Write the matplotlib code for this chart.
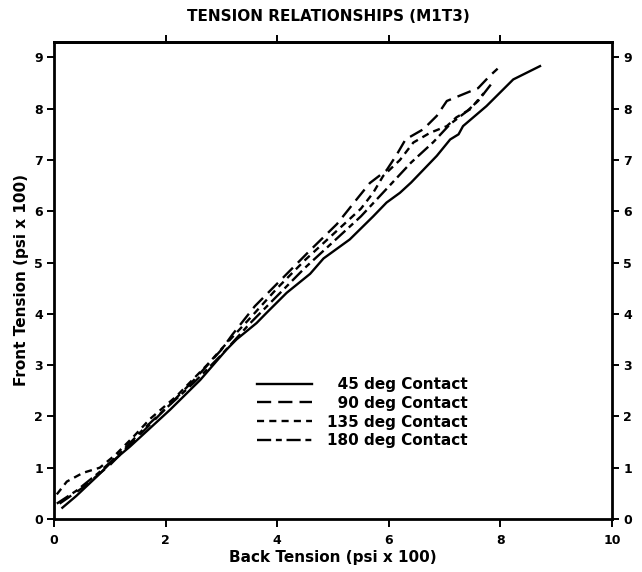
#!/usr/bin/env python3
"""Recreate the M1T3 tension relationship plot (front vs back tension)."""
import matplotlib

matplotlib.use("Agg")
import matplotlib.pyplot as plt

# values (psi x 100)
BACK_45 = [0.15, 0.4, 0.77, 1.0, 1.36, 1.7, 2.08, 2.62, 3.09, 3.27, 3.63, 3.81, 4.17, 4.59, 4.83,
           5.3, 5.72, 5.96, 6.2, 6.4, 6.86, 7.1, 7.25, 7.33, 7.75, 8.23, 8.71]
FRONT_45 = [0.22, 0.45, 0.83, 1.08, 1.41, 1.75, 2.13, 2.71, 3.3, 3.5, 3.82, 4.02, 4.41, 4.78, 5.08,
            5.45, 5.9, 6.17, 6.36, 6.56, 7.08, 7.4, 7.5, 7.66, 8.05, 8.57, 8.83]

BACK_90 = [0.1, 0.5, 1.0, 1.5, 2.0, 2.5, 3.0, 3.2, 3.6, 4.1, 4.6, 5.07, 5.4, 5.66, 5.96, 6.14,
           6.3, 6.62, 6.86, 7.04, 7.33, 7.6, 7.81, 7.95]
FRONT_90 = [0.3, 0.6, 1.05, 1.6, 2.15, 2.7, 3.3, 3.6, 4.15, 4.7, 5.25, 5.75, 6.2, 6.55, 6.8, 7.1,
            7.4, 7.6, 7.86, 8.15, 8.28, 8.4, 8.64, 8.78]

BACK_135 = [0.05, 0.23, 0.52, 0.82, 1.1, 1.42, 1.72, 2.2, 2.74, 3.03, 3.5, 4.0, 4.5, 5.0, 5.5,
            5.72, 5.9, 6.2, 6.44, 6.74, 7.04, 7.21, 7.46, 7.7]
FRONT_135 = [0.48, 0.73, 0.9, 1.0, 1.25, 1.6, 1.95, 2.4, 3.0, 3.35, 3.9, 4.5, 5.05, 5.55, 6.05,
             6.36, 6.69, 7.0, 7.34, 7.53, 7.66, 7.83, 7.99, 8.3]

BACK_180 = [0.05, 0.4, 0.8, 1.2, 1.6, 2.0, 2.5, 3.0, 3.5, 4.0, 4.5, 5.0, 5.5, 5.8, 6.1, 6.4,
            6.8, 7.1, 7.4, 7.6, 7.85]
FRONT_180 = [0.3, 0.55, 0.9, 1.3, 1.75, 2.15, 2.65, 3.2, 3.8, 4.35, 4.9, 5.4, 5.9, 6.25, 6.6, 6.95,
             7.35, 7.7, 7.95, 8.15, 8.5]

LABELS = ["\u200745 deg Contact", "\u200790 deg Contact", "135 deg Contact", "180 deg Contact"]
X_TICKS = [0, 2, 4, 6, 8, 10]
Y_TICKS = [0, 1, 2, 3, 4, 5, 6, 7, 8, 9]

STYLES = ["-", (0, (6, 3)), (0, (3, 2.2)), (0, (6, 2, 2.5, 2))]


def main() -> None:
    plt.rcParams["font.family"] = "DejaVu Sans"
    plt.rcParams["font.weight"] = "bold"

    fig = plt.figure(figsize=(6.42, 5.72), dpi=100)
    ax = fig.add_axes([54 / 642, 1 - 519 / 572, 558 / 642, 477 / 572])

    series = [(BACK_45, FRONT_45), (BACK_90, FRONT_90), (BACK_135, FRONT_135), (BACK_180, FRONT_180)]
    for (xs, ys), ls, label in zip(series, STYLES, LABELS):
        ax.plot(xs, ys, color="black", linestyle=ls, linewidth=1.7, label=label)

    ax.set_xlim(0, 10)
    ax.set_ylim(0, 9.3)
    ax.set_xticks(X_TICKS)
    ax.set_yticks(Y_TICKS)
    ax.tick_params(axis="both", direction="out", length=5, width=1.4, labelsize=9, pad=3)
    ax.tick_params(axis="y", which="both", right=True, labelright=True)
    ax.tick_params(axis="x", length=6, pad=5)

    # unlabeled ticks along the top edge
    top = ax.secondary_xaxis("top")
    top.set_xticks([2, 4, 6, 8])
    top.tick_params(direction="out", length=5, width=1.4, labeltop=False)
    top.spines["top"].set_linewidth(2.0)

    for spine in ax.spines.values():
        spine.set_linewidth(2.0)

    ax.set_xlabel("Back Tension (psi x 100)", fontsize=11, fontweight="bold", labelpad=2)
    ax.set_ylabel("Front Tension (psi x 100)", fontsize=11, fontweight="bold", labelpad=4)
    fig.text(0.512, 0.972, "TENSION RELATIONSHIPS (M1T3)", ha="center", va="center",
             fontsize=11, fontweight="bold")

    ax.legend(
        loc="upper left",
        bbox_to_anchor=((257 - 54) / 558, (519 - 377) / 477),
        frameon=False,
        fontsize=11,
        handlelength=3.6,
        handletextpad=1.0,
        labelspacing=0.25,
        borderpad=0,
        borderaxespad=0,
    )

    fig.savefig("out.png", dpi=100)
    plt.close(fig)


if __name__ == "__main__":
    main()
